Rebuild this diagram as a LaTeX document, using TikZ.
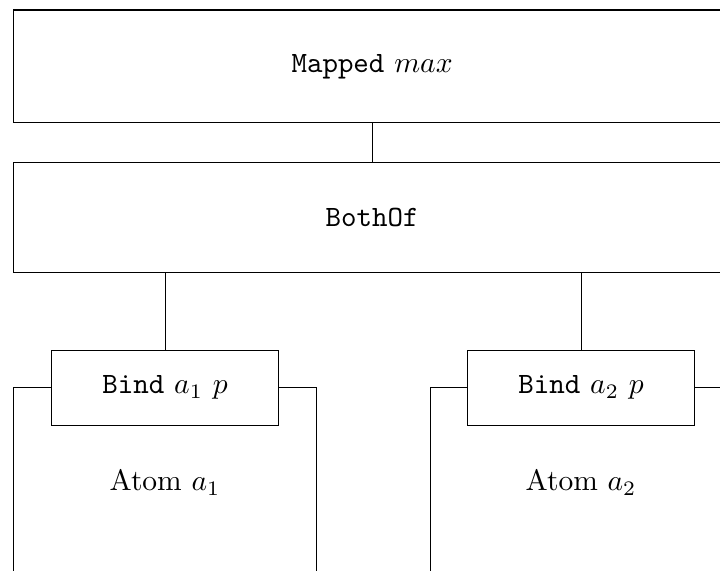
\documentclass[tikz,border=0pt]{standalone}
\begin{document}
\begin{tikzpicture}[x=0.339pt,y=-0.339pt,
  box/.style 2 args={draw,line width=0.4pt,inner sep=0pt,fill=white,rectangle,
    anchor=north west,minimum width={#1*0.339pt},minimum height={#2*0.339pt}},
  conn/.style={draw,line width=0.4pt}]
\useasboundingbox (0,0) rectangle (720,570);
\clip (0,0) rectangle (720,570);
% top boxes
\node[box={717}{112.5}] (mapped) at (13,9.5) {\texttt{Mapped} $max$};
\node[box={717}{110}] (both) at (13,162) {\texttt{BothOf}};
% atom boxes
\node[box={303}{190}] (atom1) at (13,387) {Atom $a_1$};
\node[box={301}{190}] (atom2) at (430,387) {Atom $a_2$};
% bind boxes
\node[box={227}{75.5}] (bind1) at (51,349.5) {\texttt{Bind} $a_1$ $p$};
\node[box={227}{75.5}] (bind2) at (467,349.5) {\texttt{Bind} $a_2$ $p$};
% connectors
\draw[conn] (mapped.south) -- (both.north);
\draw[conn] (bind1.north |- both.south) -- (bind1.north);
\draw[conn] (bind2.north |- both.south) -- (bind2.north);
\end{tikzpicture}
\end{document}
